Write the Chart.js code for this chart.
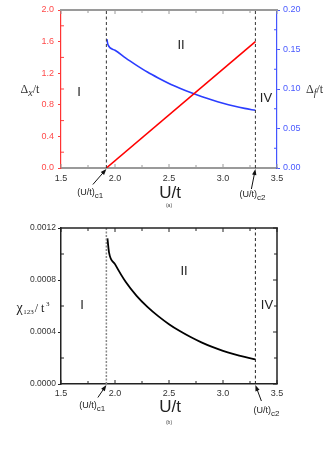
<!DOCTYPE html>
<html>
<head>
<meta charset="utf-8">
<script src="https://cdn.jsdelivr.net/npm/chart.js@4.4.1/dist/chart.umd.min.js"></script>
<style>
  html, body { margin: 0; padding: 0; background: #fff; }
  body { width: 332px; height: 470px; position: relative; overflow: hidden; }
  canvas { position: absolute; left: 0; }
  #gapChart { top: 0; }
  #chiChart { top: 215px; }
</style>
</head>
<body>
<canvas id="gapChart" width="332" height="215"></canvas>
<canvas id="chiChart" width="332" height="255"></canvas>
<script>
// critical points
const uc1 = 1.92
const uc2 = 3.30

// (a) charge gap, left axis
const uGapX = [1.92, 3.30]
const deltaX = [0.0, 1.6]

// (a) spin gap, right axis
const uGapF = [1.925, 1.935, 2.0, 2.1, 2.2, 2.3, 2.4, 2.5, 2.6, 2.7, 2.8, 2.9, 3.0, 3.1, 3.2, 3.3]
const deltaF = [0.163, 0.156, 0.149, 0.139, 0.130, 0.1215, 0.114, 0.107, 0.101, 0.0955, 0.0905, 0.086, 0.082, 0.0785, 0.0755, 0.073]

// (b) chirality susceptibility
const uChi = [1.93, 1.945, 2.0, 2.1, 2.2, 2.3, 2.4, 2.5, 2.6, 2.7, 2.8, 2.9, 3.0, 3.1, 3.2, 3.3]
const chi = [0.00112, 0.00101, 0.000922, 0.000784, 0.000678, 0.000593, 0.000522, 0.00046, 0.000407, 0.000361, 0.00032, 0.000285, 0.000255, 0.00023, 0.000208, 0.000189]

const xMin = 1.5, xMax = 3.5, xStep = 0.5

const SANS = "'Liberation Sans', Arial, sans-serif"
const SERIF = "'Liberation Serif', 'Times New Roman', serif"

const pts = (xs, ys) => xs.map((x, i) => ({ x, y: ys[i] }))
const vline = (x, y0, y1) => [{ x, y: y0 }, { x, y: y1 }]

function strokeLine(ctx, x1, y1, x2, y2) {
  ctx.beginPath()
  ctx.moveTo(x1, y1)
  ctx.lineTo(x2, y2)
  ctx.stroke()
}

function arrow(ctx, x1, y1, x2, y2) {
  const ang = Math.atan2(y2 - y1, x2 - x1)
  const len = 6, wid = 2.2
  ctx.save()
  ctx.strokeStyle = "#111"
  ctx.fillStyle = "#111"
  ctx.lineWidth = 1
  strokeLine(ctx, x1, y1, x2 - Math.cos(ang) * 3, y2 - Math.sin(ang) * 3)
  ctx.beginPath()
  ctx.moveTo(x2, y2)
  ctx.lineTo(x2 - len * Math.cos(ang) + wid * Math.sin(ang), y2 - len * Math.sin(ang) - wid * Math.cos(ang))
  ctx.lineTo(x2 - len * Math.cos(ang) - wid * Math.sin(ang), y2 - len * Math.sin(ang) + wid * Math.cos(ang))
  ctx.closePath()
  ctx.fill()
  ctx.restore()
}

// draw pieces of text one after another, each with its own font and vertical shift
function rich(ctx, x, y, parts, color) {
  ctx.save()
  ctx.fillStyle = color || "#222"
  ctx.textBaseline = "alphabetic"
  ctx.textAlign = "left"
  let cx = x
  parts.forEach(p => {
    ctx.font = p.font
    ctx.fillText(p.t, cx + (p.dx || 0), y + (p.dy || 0))
    cx += ctx.measureText(p.t).width + (p.dx || 0)
  })
  ctx.restore()
}

function text(ctx, s, x, y, font, color, align) {
  ctx.save()
  ctx.font = font
  ctx.fillStyle = color || "#222"
  ctx.textAlign = align || "center"
  ctx.textBaseline = "middle"
  ctx.fillText(s, x, y)
  ctx.restore()
}

function critLabel(ctx, x, y, sub) {
  rich(ctx, x, y, [
    { t: "(U/t)", font: "9px " + SANS },
    { t: sub, font: "8px " + SANS, dy: 3 }
  ], "#222")
}

// mirror frame with inward ticks, drawn from the scales' own ticks
const frame = {
  id: "frame",
  afterDatasetsDraw(chart, args, o) {
    const { ctx, chartArea: a, scales } = chart
    ctx.save()
    ctx.lineCap = "butt"

    ctx.strokeStyle = o.xColor
    ctx.lineWidth = o.xWidth
    strokeLine(ctx, a.left - 1, a.top, a.right + 1, a.top)

    const xs = scales.x
    const xv = xs.ticks.map(t => t.value)
    ctx.lineWidth = 1
    xv.forEach((v, i) => {
      const px = xs.getPixelForValue(v)
      strokeLine(ctx, px, a.top, px, a.top + 4)
      strokeLine(ctx, px, a.bottom, px, a.bottom - 4)
      if (i < xv.length - 1) {
        const mx = xs.getPixelForValue((v + xv[i + 1]) / 2)
        strokeLine(ctx, mx, a.top, mx, a.top + 3)
        strokeLine(ctx, mx, a.bottom, mx, a.bottom - 3)
      }
    })

    const yTicks = (sc, x0, dir, color, mirrorMajor) => {
      const v = sc.ticks.map(t => t.value)
      ctx.strokeStyle = color
      ctx.lineWidth = 1
      v.forEach((val, i) => {
        const py = sc.getPixelForValue(val)
        if (mirrorMajor) strokeLine(ctx, x0, py, x0 + dir * 4, py)
        if (i < v.length - 1) {
          const my = sc.getPixelForValue((val + v[i + 1]) / 2)
          strokeLine(ctx, x0, my, x0 + dir * 3, my)
        }
      })
    }

    yTicks(scales.y, a.left, 1, o.leftColor, false)
    if (scales.y1) {
      yTicks(scales.y1, a.right, -1, o.rightColor, false)
    } else {
      ctx.strokeStyle = o.rightColor
      ctx.lineWidth = o.rightWidth
      strokeLine(ctx, a.right, a.top, a.right, a.bottom)
      yTicks(scales.y, a.right, -1, o.rightColor, true)
    }
    ctx.restore()
  }
}

Chart.register(frame)

function xScale(color, width, height, labelPad) {
  return {
    type: "linear",
    min: xMin,
    max: xMax,
    ticks: {
      stepSize: xStep,
      padding: labelPad,
      color: "#333",
      font: { family: SANS, size: 9 },
      callback: v => Number(v).toFixed(1)
    },
    grid: { drawOnChartArea: false, drawTicks: false },
    border: { color: color, width: width },
    afterFit: s => { s.height = height }
  }
}

// ---------- (a) ----------
new Chart(document.getElementById("gapChart"), {
  type: "line",
  data: {
    datasets: [
      {
        data: vline(uc1, 0, 2),
        yAxisID: "y",
        borderColor: "#333",
        borderWidth: 1,
        borderDash: [3, 2.5],
        pointRadius: 0
      },
      {
        data: vline(uc2, 0, 2),
        yAxisID: "y",
        borderColor: "#333",
        borderWidth: 1,
        borderDash: [3, 2.5],
        pointRadius: 0
      },
      {
        label: "Δx/t",
        data: pts(uGapX, deltaX),
        yAxisID: "y",
        borderColor: "#ff0000",
        borderWidth: 1.6,
        pointRadius: 0
      },
      {
        label: "Δf/t",
        data: pts(uGapF, deltaF),
        yAxisID: "y1",
        borderColor: "#2b3dff",
        borderWidth: 1.6,
        pointRadius: 0,
        cubicInterpolationMode: "monotone"
      }
    ]
  },
  options: {
    responsive: false,
    animation: false,
    devicePixelRatio: 1,
    layout: { padding: { top: 10, left: 0, right: 0, bottom: 0 } },
    plugins: {
      legend: { display: false },
      tooltip: { enabled: false },
      frame: { xColor: "#9a9a9a", xWidth: 2, leftColor: "#ff4040", rightColor: "#4455ff" }
    },
    scales: {
      x: xScale("#9a9a9a", 2, 47, 5),
      y: {
        position: "left",
        min: 0,
        max: 2,
        ticks: {
          stepSize: 0.4,
          padding: 4,
          color: "#ff4a4a",
          font: { family: SANS, size: 9 },
          callback: v => Number(v).toFixed(1)
        },
        grid: { drawOnChartArea: false, tickLength: 3, color: "#ff4040" },
        border: { color: "#ff3333", width: 1.2 },
        afterFit: s => { s.width = 61 }
      },
      y1: {
        position: "right",
        min: 0,
        max: 0.2,
        ticks: {
          stepSize: 0.05,
          padding: 3,
          color: "#4a5aff",
          font: { family: SANS, size: 9 },
          callback: v => Number(v).toFixed(2)
        },
        grid: { drawOnChartArea: false, tickLength: 3, color: "#4455ff" },
        border: { color: "#4455ff", width: 1.2 },
        afterFit: s => { s.width = 55 }
      }
    }
  },
  plugins: [{
    id: "notesA",
    afterDraw(chart) {
      const { ctx, chartArea: a, scales } = chart
      const x1 = scales.x.getPixelForValue(uc1)
      const x2 = scales.x.getPixelForValue(uc2)
      const mid = (a.left + a.right) / 2

      rich(ctx, 20.5, 93, [
        { t: "Δ", font: "12px " + SERIF },
        { t: "x", font: "italic 10px " + SERIF, dy: 3 },
        { t: "/t", font: "12px " + SERIF }
      ], "#333")
      rich(ctx, 306, 93, [
        { t: "Δ", font: "12px " + SERIF },
        { t: "f", font: "italic 10px " + SERIF, dy: 3 },
        { t: "/t", font: "12px " + SERIF }
      ], "#333")

      text(ctx, "I", 79, 92, "13px " + SANS)
      text(ctx, "II", 181, 45, "13px " + SANS)
      text(ctx, "IV", 266, 98, "13px " + SANS)

      text(ctx, "U/t", mid + 1, 193, "17px " + SANS)
      text(ctx, "(a)", mid, 206, "5px " + SANS, "#444")

      critLabel(ctx, x1 - 29, 195, "c1")
      arrow(ctx, x1 - 13.5, 184.5, x1, a.bottom + 1)
      critLabel(ctx, x2 - 16, 197, "c2")
      arrow(ctx, x2 - 4, 189, x2, a.bottom + 1)
    }
  }]
})

// ---------- (b) ----------
new Chart(document.getElementById("chiChart"), {
  type: "line",
  data: {
    datasets: [
      {
        data: vline(uc1, 0, 0.0012),
        borderColor: "#888",
        borderWidth: 1.5,
        borderDash: [2, 1.5],
        pointRadius: 0
      },
      {
        data: vline(uc2, 0, 0.0012),
        borderColor: "#222",
        borderWidth: 1,
        borderDash: [3, 2.5],
        pointRadius: 0
      },
      {
        label: "χ123/t³",
        data: pts(uChi, chi),
        borderColor: "#000",
        borderWidth: 1.8,
        pointRadius: 0,
        cubicInterpolationMode: "monotone"
      }
    ]
  },
  options: {
    responsive: false,
    animation: false,
    devicePixelRatio: 1,
    layout: { padding: { top: 13, left: 0, right: 55, bottom: 0 } },
    plugins: {
      legend: { display: false },
      tooltip: { enabled: false },
      frame: { xColor: "#222", xWidth: 1.5, leftColor: "#222", rightColor: "#222", rightWidth: 1.5 }
    },
    scales: {
      x: xScale("#222", 1.5, 86, 4),
      y: {
        position: "left",
        min: 0,
        max: 0.0012,
        ticks: {
          stepSize: 0.0004,
          padding: 2,
          color: "#333",
          font: { family: SANS, size: 8.5 },
          callback: v => Number(v).toFixed(4)
        },
        grid: { drawOnChartArea: false, tickLength: 3, color: "#222" },
        border: { color: "#222", width: 1.5 },
        afterFit: s => { s.width = 61 }
      }
    }
  },
  plugins: [{
    id: "notesB",
    afterDraw(chart) {
      const { ctx, chartArea: a, scales } = chart
      const x1 = scales.x.getPixelForValue(uc1)
      const x2 = scales.x.getPixelForValue(uc2)
      const mid = (a.left + a.right) / 2

      rich(ctx, 16.5, 97, [
        { t: "χ", font: "14px " + SERIF },
        { t: "123", font: "7px " + SERIF, dy: 2, dx: 0.5 },
        { t: "/", font: "12px " + SERIF, dx: 1 },
        { t: " t", font: "12px " + SERIF },
        { t: "3", font: "7px " + SERIF, dy: -6, dx: 1.5 }
      ], "#222")

      text(ctx, "I", 82, 90, "13px " + SANS)
      text(ctx, "II", 184, 56, "13px " + SANS)
      text(ctx, "IV", 267, 90, "13px " + SANS)

      text(ctx, "U/t", mid + 1, 192, "17px " + SANS)
      text(ctx, "(b)", mid, 208, "5px " + SANS, "#444")

      critLabel(ctx, x1 - 27, 193, "c1")
      arrow(ctx, x1 - 8.5, 182.5, x1, a.bottom + 1)
      critLabel(ctx, x2 - 2, 198, "c2")
      arrow(ctx, x2 + 6, 186, x2, a.bottom + 1)
    }
  }]
})
</script>
</body>
</html>
